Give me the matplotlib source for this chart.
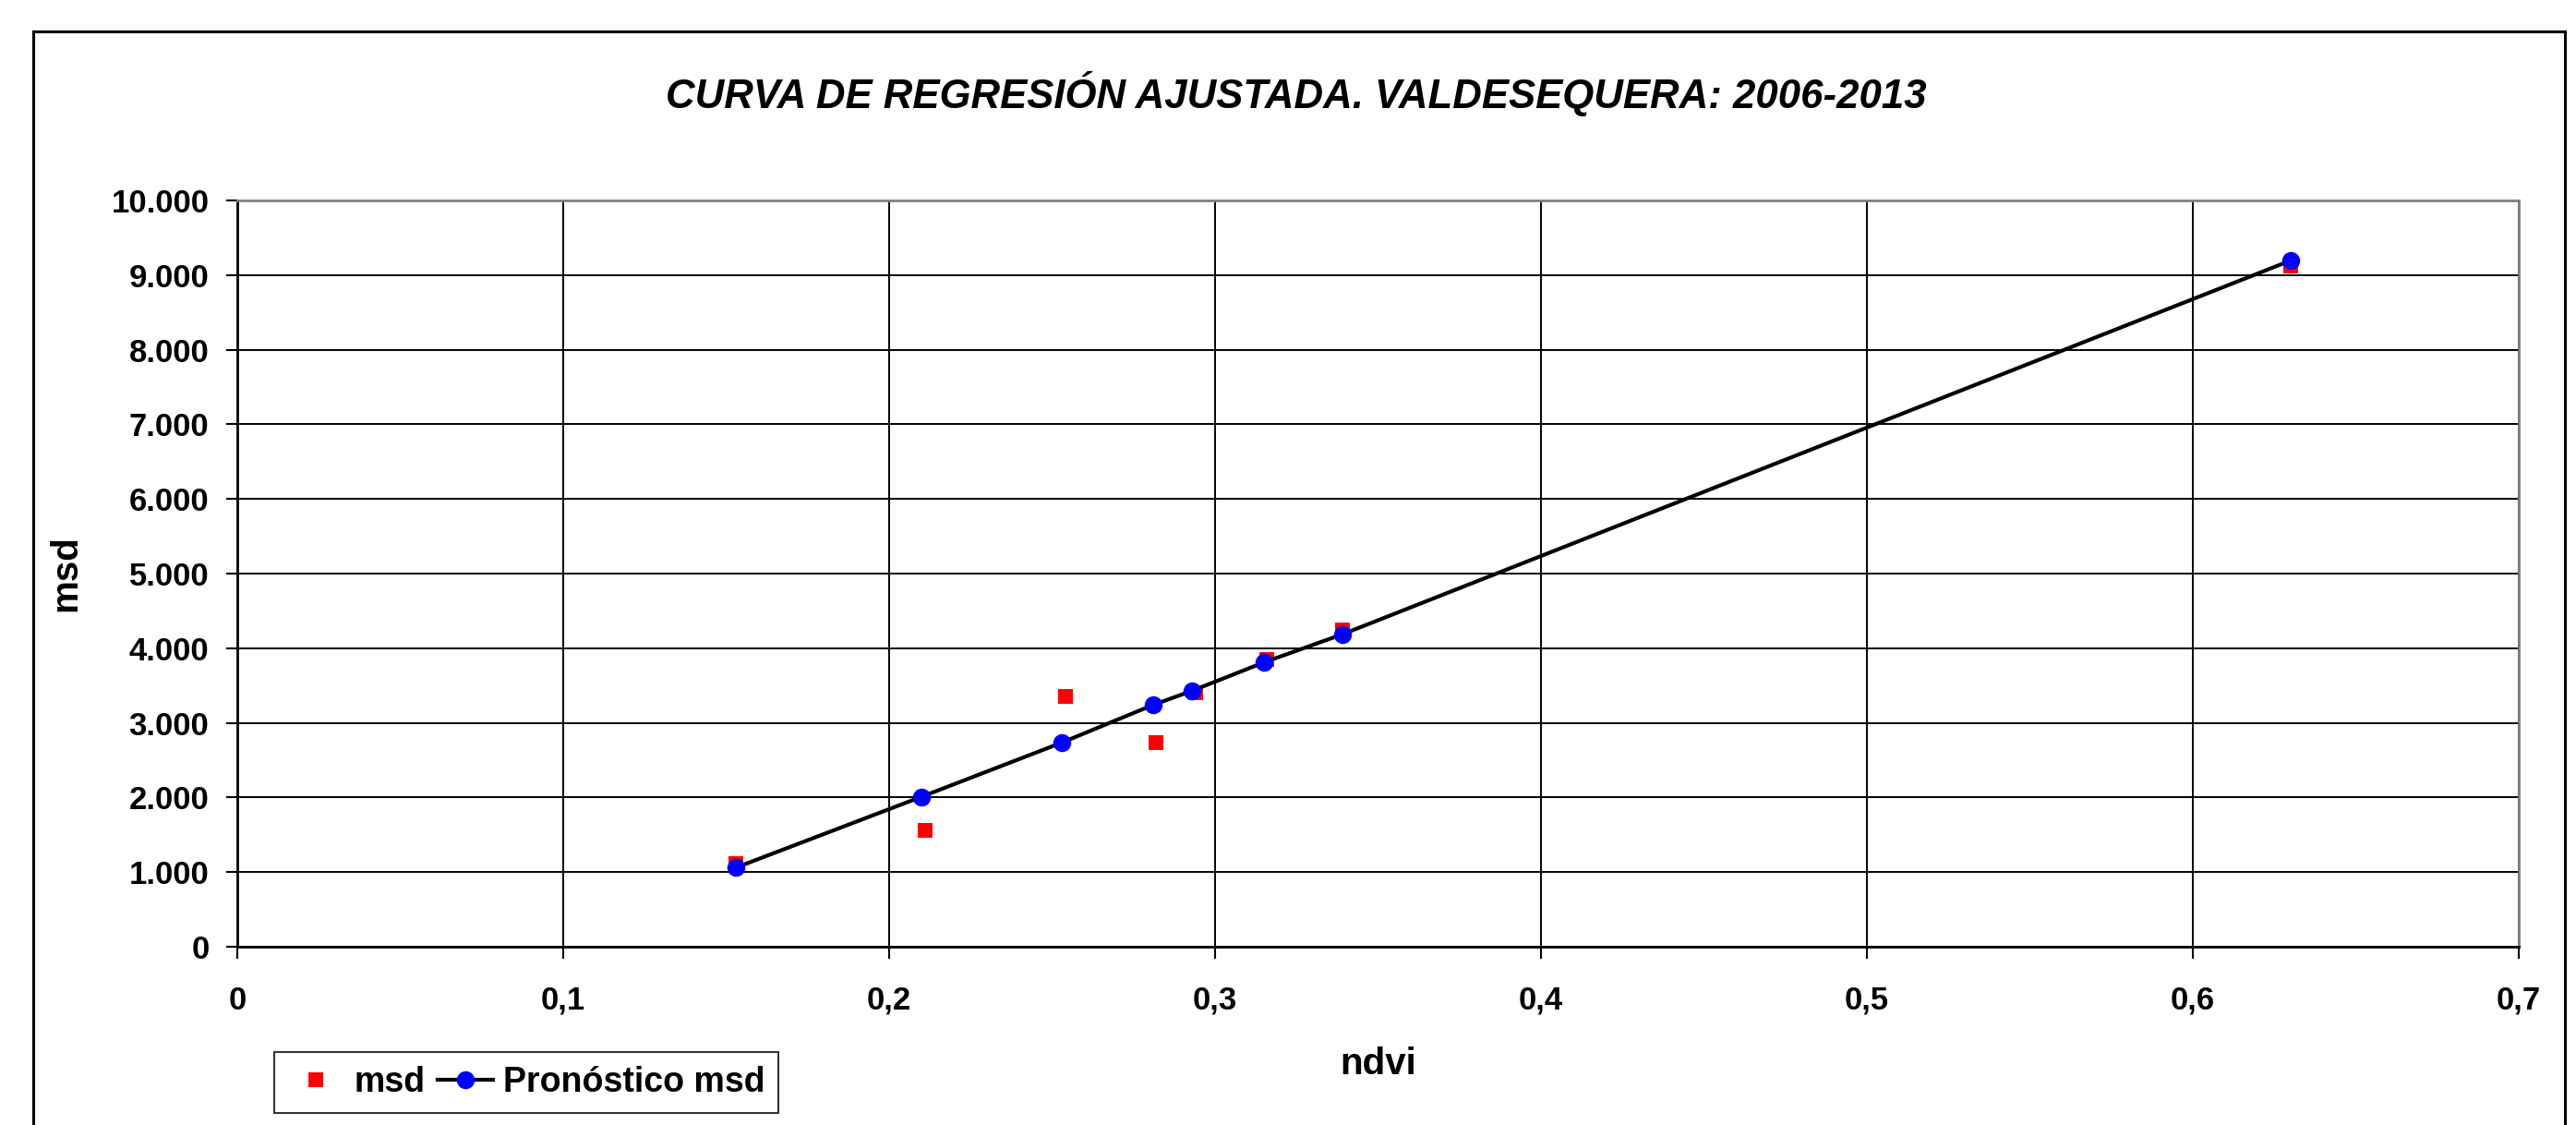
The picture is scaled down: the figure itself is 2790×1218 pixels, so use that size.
import matplotlib
matplotlib.use('Agg')
import matplotlib.pyplot as plt
from matplotlib.patches import Rectangle

# values
ndvi = [0.153, 0.211, 0.254, 0.282, 0.294, 0.316, 0.339, 0.630]
msd = [1110, 1560, 3350, 2730, 3400, 3850, 4240, 9120]
ndvi_pred = [0.153, 0.210, 0.253, 0.281, 0.293, 0.315, 0.339, 0.630]
msd_pred = [1060, 2010, 2735, 3240, 3430, 3810, 4185, 9195]

xticks = [0, 0.1, 0.2, 0.3, 0.4, 0.5, 0.6, 0.7]
xtick_labels = ['0', '0,1', '0,2', '0,3', '0,4', '0,5', '0,6', '0,7']
yticks = [0, 1000, 2000, 3000, 4000, 5000, 6000, 7000, 8000, 9000, 10000]
ytick_labels = ['0', '1.000', '2.000', '3.000', '4.000', '5.000',
                '6.000', '7.000', '8.000', '9.000', '10.000']

plt.rcParams['font.family'] = ['Liberation Sans', 'DejaVu Sans']
plt.rcParams['font.weight'] = 'bold'

fig = plt.figure(figsize=(27.9, 12.18), dpi=100)
ax = fig.add_axes([0.0921, 0.1585, 0.8857, 0.6633])

# outer chart border (bottom edge runs off the image)
fig.patches.append(Rectangle((0.0129, -0.1), 0.9828, 1.072,
                             transform=fig.transFigure, fill=False,
                             edgecolor='black', linewidth=2.2))

ax.plot(ndvi, msd, linestyle='none', marker='s', markersize=11.5,
        color='#FF0000', markeredgewidth=0, label='msd', zorder=3)
ax.plot(ndvi_pred, msd_pred, color='black', linewidth=3, marker='o',
        markersize=13, markerfacecolor='#0000FF', markeredgecolor='#0000FF',
        label='Pronóstico msd', zorder=4)

ax.set_xlim(0, 0.7)
ax.set_ylim(0, 10000)
ax.set_xticks(xticks)
ax.set_xticklabels(xtick_labels)
ax.set_yticks(yticks)
ax.set_yticklabels(ytick_labels)
ax.tick_params(axis='both', labelsize=25, length=9, width=1.5, direction='out')
ax.tick_params(axis='x', pad=21)
ax.tick_params(axis='y', pad=13)
for lab in ax.get_xticklabels() + ax.get_yticklabels():
    lab.set_fontweight('bold')

ax.grid(True, color='black', linewidth=1.4)
ax.set_axisbelow(True)
for side in ['top', 'right']:
    ax.spines[side].set_color('#808080')
    ax.spines[side].set_linewidth(2)
for side in ['left', 'bottom']:
    ax.spines[side].set_color('black')
    ax.spines[side].set_linewidth(2)

ax.set_xlabel('ndvi', fontsize=29, fontweight='bold')
ax.set_ylabel('msd', fontsize=29, fontweight='bold')
ax.xaxis.set_label_coords(0.5, -0.157)
ax.xaxis.label.set_va('center')
ax.yaxis.set_label_coords(-0.0753, 0.5)
ax.yaxis.label.set_va('center')

fig.text(0.503, 0.917, 'CURVA DE REGRESIÓN AJUSTADA. VALDESEQUERA: 2006-2013',
         fontsize=31.5, fontweight='bold', fontstyle='italic',
         ha='center', va='center')

leg = fig.legend(loc='lower left', bbox_to_anchor=(0.1065, 0.0107), ncol=2,
                 fontsize=27, frameon=True, fancybox=False, handlelength=1.6,
                 handletextpad=0.3, columnspacing=0.35, borderpad=0.4,
                 borderaxespad=0)
leg.get_frame().set_edgecolor('black')
leg.get_frame().set_linewidth(1.5)
for t in leg.get_texts():
    t.set_fontweight('bold')

fig.savefig('out.png', dpi=100, facecolor='white')
